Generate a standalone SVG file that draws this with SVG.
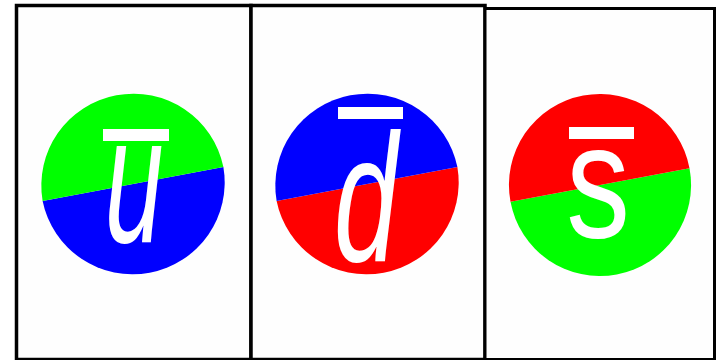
<svg xmlns="http://www.w3.org/2000/svg" width="720" height="360" viewBox="0 0 720 360">
<style>
.panel{fill:#fefefe;stroke:#000;stroke-width:3.5}
.g{fill:#00ff00}.b{fill:#0000ff}.r{fill:#ff0000}
.lbl{fill:#fff;font-family:"Liberation Sans",Arial,sans-serif;font-size:182px;text-anchor:middle}
.it{font-style:italic}
.bar{fill:#fff}
</style>
<rect width="720" height="360" fill="#fff"/>
<g id="panel-u">
<rect class="panel" x="16.5" y="5.5" width="234.5" height="354"/>
<path class="b" d="M42.6 201 A92 92 0 0 0 223.4 167 Z"/>
<path class="g" d="M42.6 201 A92 92 0 0 1 223.4 167 Z"/>
<text class="lbl it" transform="translate(134 242) scale(0.58 1)">u</text>
<rect class="bar" x="103" y="129" width="66" height="12"/>
</g>
<g id="panel-d">
<rect class="panel" x="251" y="5.5" width="234" height="354"/>
<path class="r" d="M276.6 201 A92 92 0 0 0 457.4 167 Z"/>
<path class="b" d="M276.6 201 A92 92 0 0 1 457.4 167 Z"/>
<text class="lbl it" transform="translate(366 261) scale(0.63 1)">d</text>
<rect class="bar" x="338" y="107" width="65" height="12"/>
</g>
<g id="panel-s">
<rect class="panel" x="485" y="8.5" width="229.5" height="351" style="stroke-width:3"/>
<path class="g" d="M510.5 201.8 A91 91 0 0 0 689.5 168.2 Z"/>
<path class="r" d="M510.5 201.8 A91 91 0 0 1 689.5 168.2 Z"/>
<text class="lbl" transform="translate(598 237) scale(0.7 0.9)">s</text>
<rect class="bar" x="569" y="127" width="65" height="12"/>
</g>
</svg>
